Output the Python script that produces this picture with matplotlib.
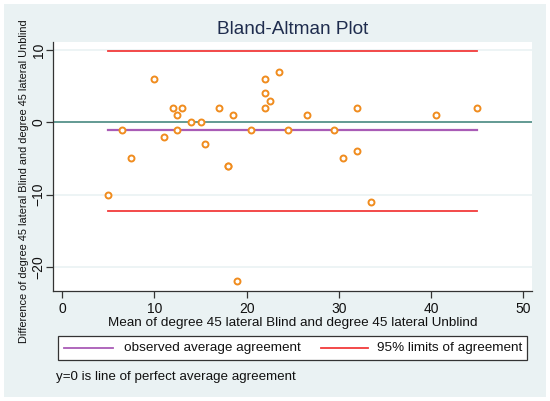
import matplotlib
matplotlib.use("Agg")
import matplotlib.pyplot as plt
from matplotlib.patches import Rectangle
from matplotlib.lines import Line2D

plt.rcParams['font.family'] = ['Liberation Sans', 'DejaVu Sans']

# Data: mean of the two measurements (x) and their difference (y)
mean_vals = [5, 6.5, 7.5, 10, 11, 12, 12.5, 12.5, 13, 14, 15, 15.5, 17, 18, 18,
             18.5, 19, 20.5, 22, 22, 22, 22.5, 23.5, 24.5, 26.5, 29.5, 30.5, 32,
             32, 33.5, 40.5, 45]
diff_vals = [-10, -1, -5, 6, -2, 2, 1, -1, 2, 0, 0, -3, 2, -6, -6,
             1, -22, -1, 6, 4, 2, 3, 7, -1, 1, -1, -5, 2,
             -4, -11, 1, 2]
avg_agreement = -1.1
limits = [9.9, -12.25]
xticks = [0, 10, 20, 30, 40, 50]
yticks = [-20, -10, 0, 10]

title = "Bland-Altman Plot"
xlabel = "Mean of degree 45 lateral Blind and degree 45 lateral Unblind"
ylabel = "Difference of degree 45 lateral Blind and degree 45 lateral Unblind"
legend_labels = ["observed average agreement", "95% limits of agreement"]
note = "y=0 is line of perfect average agreement"

BG = "#eaf2f3"
ORANGE = "#f08c1e"
PURPLE = "#a95cb6"
RED = "#f23a3a"
TEAL = "#4b8b82"
NAVY = "#1f2d4e"
W, H = 550, 401

fig = plt.figure(figsize=(W / 100, H / 100), dpi=100)
fig.patch.set_facecolor("white")
fig.patches.append(Rectangle((4 / W, 1 - 397 / H), 542 / W, 393 / H,
                             transform=fig.transFigure, facecolor=BG,
                             edgecolor="none", zorder=-10))

ax = fig.add_axes([53.3 / W, 1 - 290.7 / H, (532 - 53.3) / W, (290.7 - 41.7) / H])
ax.set_facecolor("white")
ax.set_xlim(-0.97, 50.95)
ax.set_ylim(-23.3, 11.15)

for t in yticks:
    ax.axhline(t, color=BG, lw=1.2, zorder=0)
ax.axhline(0, color=TEAL, lw=1.2, zorder=1)

xmin, xmax = min(mean_vals), max(mean_vals)
ax.plot([xmin, xmax], [avg_agreement] * 2, color=PURPLE, lw=1.6, zorder=2)
for lim in limits:
    ax.plot([xmin, xmax], [lim] * 2, color=RED, lw=1.3, zorder=2)

ax.plot(mean_vals, diff_vals, linestyle="none", marker="o", ms=4.3,
        mfc="white", mec=ORANGE, mew=1.4, zorder=3)

for s in ["top", "right"]:
    ax.spines[s].set_visible(False)
for s in ["left", "bottom"]:
    ax.spines[s].set_color("#333333")
    ax.spines[s].set_linewidth(0.9)

ax.set_xticks(xticks)
ax.set_yticks(yticks)
ax.tick_params(axis="both", direction="out", length=5, width=0.9,
               color="#333333", labelcolor="#111111", labelsize=10)
ax.tick_params(axis="x", pad=3)
ax.tick_params(axis="y", pad=0.5)
for lbl in ax.get_yticklabels():
    lbl.set_rotation(90)
    lbl.set_va("center")

ax.set_xlabel(xlabel, fontsize=9.7, color="#111111", labelpad=1)
fig.text(24.5 / W, 1 - 181 / H, ylabel, rotation=90, fontsize=7.9,
         color="#111111", ha="center", va="center")

fig.text(292.5 / W, 1 - 29 / H, title, fontsize=13.7, color=NAVY,
         ha="center", va="center")

# legend box
fig.patches.append(Rectangle((58.3 / W, 1 - 360 / H), (527 - 58.3) / W, 24 / H,
                             transform=fig.transFigure, facecolor="white",
                             edgecolor="#333333", lw=0.9, zorder=5))
ly = 1 - 348 / H
fig.lines.append(Line2D([64 / W, 113 / W], [ly, ly], color=PURPLE, lw=1.3,
                        transform=fig.transFigure, zorder=6))
fig.text(124 / W, ly, legend_labels[0], fontsize=9.7, color="#111111",
         ha="left", va="center", zorder=6)
fig.lines.append(Line2D([321 / W, 368 / W], [ly, ly], color=RED, lw=1.3,
                        transform=fig.transFigure, zorder=6))
fig.text(377 / W, ly, legend_labels[1], fontsize=9.7, color="#111111",
         ha="left", va="center", zorder=6)

fig.text(56.5 / W, 1 - 377 / H, note, fontsize=9.6, color="#111111",
         ha="left", va="center")

fig.savefig("out.png", dpi=100, facecolor=fig.get_facecolor())
